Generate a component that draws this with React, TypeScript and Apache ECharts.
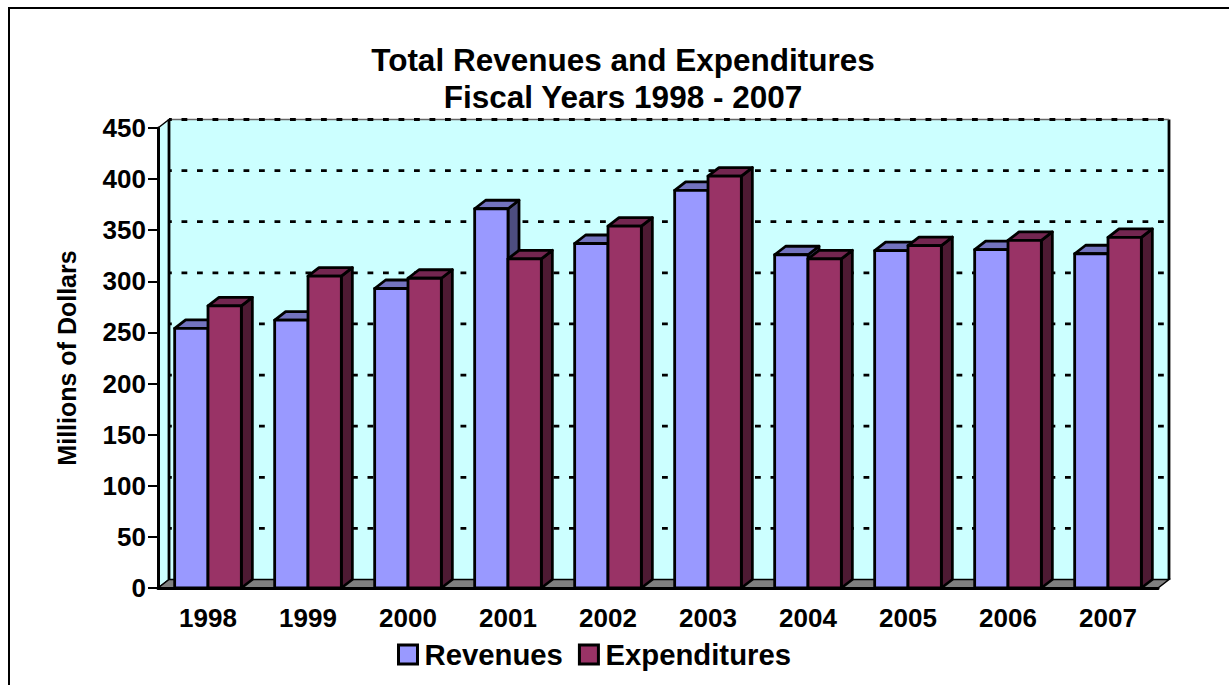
import React, { useEffect, useRef } from "react";
import * as echarts from "echarts";

const years = ["1998", "1999", "2000", "2001", "2002", "2003", "2004", "2005", "2006", "2007"];
const revenues = [254, 262, 293, 371, 337, 389, 326, 330, 331, 327];
const expenditures = [276, 305, 303, 322, 354, 403, 322, 335, 340, 343];
const gridValues = [50, 100, 150, 200, 250, 300, 350, 400];

const FONT = "'Liberation Sans', Arial, sans-serif";
const DEPTH_X = 11;
const DEPTH_Y = -8.5;
const BLACK = "#000";
const OUTLINE = 2.8;
const DASH = { lineDash: [5.8, 9.7], lineDashOffset: 2.8 };

// One 3D box: a front face with a top and a right side receding by the depth offset.
function box(x0: number, x1: number, yTop: number, yBase: number, front: string, top: string, side: string) {
  const stroke = { stroke: BLACK, lineWidth: OUTLINE, lineJoin: "round" as const };
  return [
    {
      type: "polygon",
      shape: { points: [[x1, yTop], [x1 + DEPTH_X, yTop + DEPTH_Y], [x1 + DEPTH_X, yBase + DEPTH_Y], [x1, yBase]] },
      style: { fill: side, ...stroke },
    },
    {
      type: "polygon",
      shape: { points: [[x0, yTop], [x0 + DEPTH_X, yTop + DEPTH_Y], [x1 + DEPTH_X, yTop + DEPTH_Y], [x1, yTop]] },
      style: { fill: top, ...stroke },
    },
    { type: "rect", shape: { x: x0, y: yTop, width: x1 - x0, height: yBase - yTop }, style: { fill: front, ...stroke } },
  ];
}

// Back wall, side wall, floor and dashed gridlines of the 3D plot box.
function renderWalls(params: any, api: any) {
  const cs = params.coordSys;
  const xl = cs.x;
  const xr = cs.x + cs.width;
  const yt = cs.y;
  const yb = cs.y + cs.height;
  const stroke = { stroke: BLACK, lineWidth: OUTLINE };
  const bx0 = xl + DEPTH_X;
  const bx1 = xr + DEPTH_X;
  const by0 = yt + DEPTH_Y;
  const by1 = yb + DEPTH_Y;
  const children: any[] = [
    {
      type: "rect",
      shape: { x: bx0, y: by0, width: bx1 - bx0, height: by1 - by0 },
      style: { fill: "#CCFFFF" },
    },
    {
      type: "polygon",
      shape: { points: [[xl, yb], [xl, yt], [bx0, by0], [bx0, by1]] },
      style: { fill: "#CCFFFF", stroke: BLACK, lineWidth: 1.5 },
    },
    { type: "line", shape: { x1: bx0, y1: by0, x2: bx0, y2: by1 }, style: stroke },
    { type: "line", shape: { x1: bx1, y1: by0, x2: bx1, y2: by1 }, style: stroke },
    { type: "line", shape: { x1: bx0, y1: by0, x2: bx1, y2: by0 }, style: { stroke: "#666", lineWidth: 1.5 } },
    { type: "line", shape: { x1: bx0, y1: by0, x2: bx1, y2: by0 }, style: { stroke: BLACK, lineWidth: OUTLINE, ...DASH } },
    {
      type: "polygon",
      shape: { points: [[xl, yb], [bx0, by1], [bx1, by1], [xr, yb]] },
      style: { fill: "#808080", stroke: BLACK, lineWidth: 1.5 },
    },
  ];
  gridValues.forEach((v) => {
    const y = api.coord([0, v])[1] + DEPTH_Y;
    children.push({
      type: "line",
      shape: { x1: bx0, y1: y, x2: bx1, y2: y },
      style: { stroke: BLACK, lineWidth: OUTLINE, ...DASH },
    });
  });
  return { type: "group", children };
}

function barRenderer(offset: number, front: string, top: string, side: string) {
  return (_p: any, api: any) => {
    const idx = api.value(0);
    const [cx, yTop] = api.coord([idx, api.value(1)]);
    const yBase = api.coord([idx, 0])[1];
    const band = api.size([1, 0])[0];
    const w = band / 3;
    const x0 = cx + offset * w;
    return { type: "group", children: box(x0, x0 + w, yTop, yBase, front, top, side) };
  };
}

export default function App() {
  const ref = useRef<HTMLDivElement>(null);
  useEffect(() => {
    const chart = echarts.init(ref.current!, undefined, { renderer: "svg" });
    chart.setOption({
      animation: false,
      backgroundColor: "#fff",
      textStyle: { fontFamily: FONT },
      title: {
        text: "Total Revenues and Expenditures\nFiscal Years 1998 - 2007",
        left: 618,
        top: 36,
        textAlign: "center",
        textStyle: { fontFamily: FONT, fontWeight: "bold", fontSize: 31.5, lineHeight: 37, color: BLACK },
      },
      legend: {
        data: ["Revenues", "Expenditures"],
        left: 392,
        top: 635,
        itemWidth: 23,
        itemHeight: 19,
        itemGap: 15,
        // Square swatch kept at its aspect inside a wider legend slot.
        icon: "path://M0 0H10V10H0Z",
        itemStyle: { borderColor: BLACK, borderWidth: 3 },
        textStyle: { fontFamily: FONT, fontWeight: "bold", fontSize: 29.3, color: BLACK },
      },
      grid: { left: 158, right: 71, top: 128, bottom: 97, containLabel: false },
      xAxis: {
        type: "category",
        data: years,
        z: 10,
        axisLine: { lineStyle: { color: BLACK, width: 3 } },
        axisTick: { alignWithLabel: false, length: 10, lineStyle: { color: BLACK, width: 2 } },
        axisLabel: { color: BLACK, fontFamily: FONT, fontWeight: "bold", fontSize: 26, margin: 17 },
        splitLine: { show: false },
      },
      yAxis: {
        type: "value",
        min: 0,
        max: 450,
        interval: 50,
        z: 10,
        name: "Millions of Dollars",
        nameLocation: "middle",
        nameGap: 78.5,
        nameTextStyle: { color: BLACK, fontFamily: FONT, fontWeight: "bold", fontSize: 25 },
        axisLine: { show: true, lineStyle: { color: BLACK, width: 3 } },
        axisTick: { show: true, length: 10, lineStyle: { color: BLACK, width: 2 } },
        axisLabel: { color: BLACK, fontFamily: FONT, fontWeight: "bold", fontSize: 26, margin: 12 },
        splitLine: { show: false },
      },
      graphic: [
        {
          type: "rect",
          silent: true,
          z: -10,
          shape: { x: 9, y: 8, width: 1400, height: 800 },
          style: { fill: "none", stroke: BLACK, lineWidth: 2 },
        },
      ],
      series: [
        {
          type: "custom",
          name: "walls",
          data: [[0, 0]],
          renderItem: renderWalls,
          silent: true,
          z: 1,
          encode: { x: 0, y: 1 },
        },
        {
          type: "custom",
          name: "Revenues",
          data: revenues.map((v, i) => [i, v]),
          renderItem: barRenderer(-1, "#9999FF", "#7373BF", "#4D4D80"),
          itemStyle: { color: "#9999FF" },
          z: 2,
          encode: { x: 0, y: 1 },
        },
        {
          type: "custom",
          name: "Expenditures",
          data: expenditures.map((v, i) => [i, v]),
          renderItem: barRenderer(0, "#993366", "#732650", "#4D1A33"),
          itemStyle: { color: "#993366" },
          z: 3,
          encode: { x: 0, y: 1 },
        },
      ],
    });
    return () => chart.dispose();
  }, []);
  return <div ref={ref} style={{ position: "fixed", left: 0, top: 0, width: 1229, height: 685 }} />;
}
